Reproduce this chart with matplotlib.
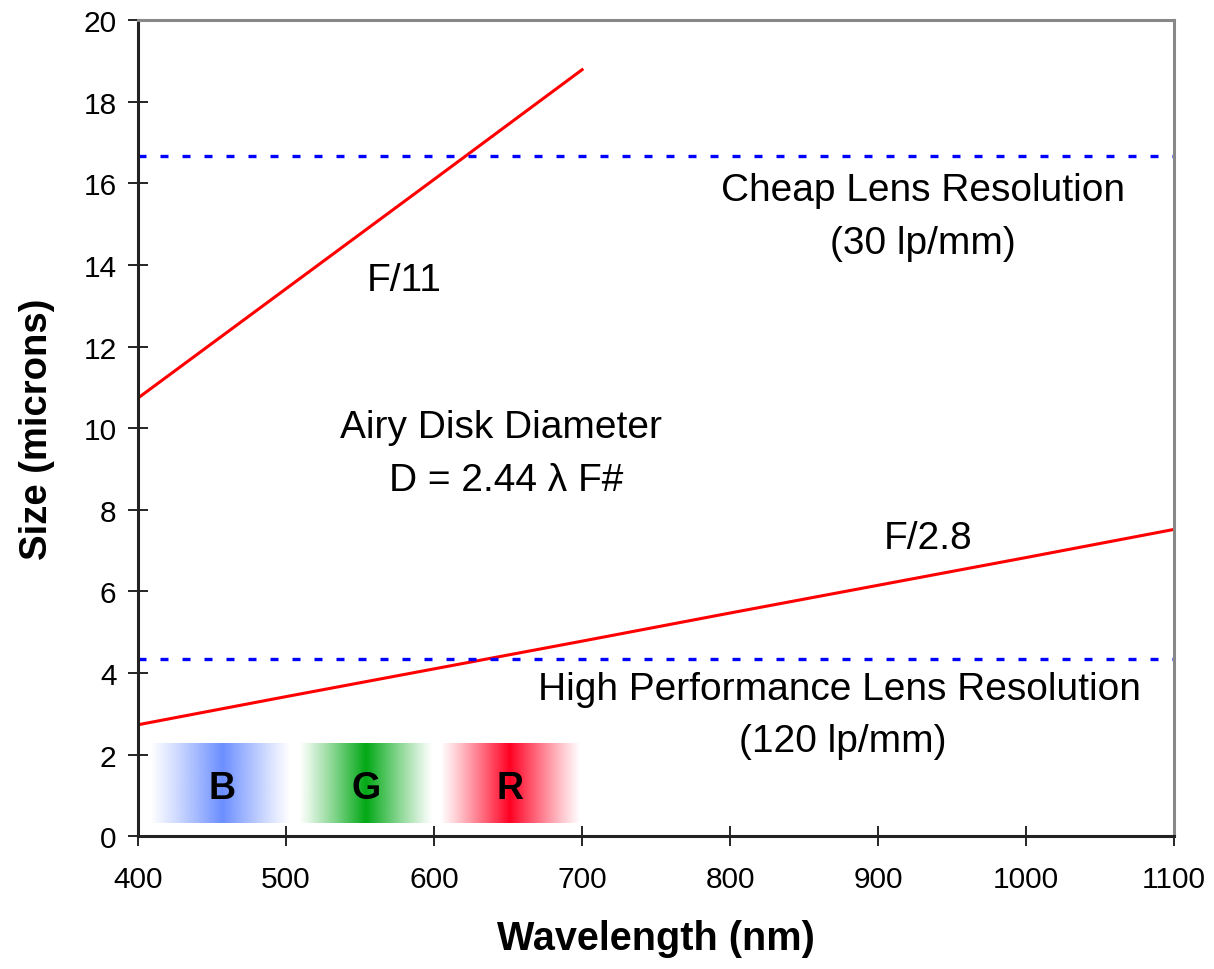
import matplotlib.pyplot as plt
import numpy as np
from matplotlib.colors import to_rgb

plt.rcParams['font.family'] = ['Liberation Sans', 'DejaVu Sans']

# data
wl_f11 = [400, 500, 600, 700]
size_f11 = [10.74, 13.42, 16.10, 18.79]
wl_f28 = [400, 500, 600, 700, 800, 900, 1000, 1100]
size_f28 = [2.73, 3.42, 4.10, 4.78, 5.47, 6.15, 6.83, 7.52]
cheap_res = 16.67
high_res = 4.33
bands = ['B', 'G', 'R']
band_lo = [408, 509, 604]
band_mid = [457, 554, 651]
band_hi = [503, 599, 699]
band_colors = ['#6b8eff', '#00a814', '#ff0022']

fig = plt.figure(figsize=(12.14, 9.70), dpi=100)
ax = fig.add_axes([0.1137, 0.137, 0.8535, 0.841])

# colour bands (fade white -> colour -> white)
for lab, lo, mid, hi, c in zip(bands, band_lo, band_mid, band_hi, band_colors):
    n = 200
    xs = np.linspace(lo, hi, n)
    a = np.where(xs < mid, (xs - lo) / (mid - lo), 1 - (xs - mid) / (hi - mid))
    a = np.clip(a, 0, 1) ** 1.1
    img = np.ones((1, n, 4))
    img[0, :, :3] = to_rgb(c)
    img[0, :, 3] = a
    ax.imshow(img, extent=(lo, hi, 0.32, 2.28), aspect='auto', zorder=1,
              interpolation='bilinear')
    ax.text(mid, 1.18, lab, ha='center', va='center', fontsize=27,
            fontweight='bold', zorder=3)

ax.plot(wl_f11, size_f11, color='#ff0000', lw=2.2, zorder=2)
ax.plot(wl_f28, size_f28, color='#ff0000', lw=2.2, zorder=2)
ax.axhline(cheap_res, color='#0000ff', lw=2.4, dashes=(2.4, 4.2), zorder=2)
ax.axhline(high_res, color='#0000ff', lw=2.4, dashes=(2.4, 4.2), zorder=2)

fs = 28
ax.text(930, 15.85, 'Cheap Lens Resolution', ha='center', va='center', fontsize=fs)
ax.text(930, 14.55, '(30 lp/mm)', ha='center', va='center', fontsize=fs)
ax.text(580, 13.64, 'F/11', ha='center', va='center', fontsize=fs)
ax.text(645, 10.02, 'Airy Disk Diameter', ha='center', va='center', fontsize=fs)
ax.text(649, 8.72, 'D = 2.44 \u03bb F#', ha='center', va='center', fontsize=fs)
ax.text(934, 7.32, 'F/2.8', ha='center', va='center', fontsize=fs)
ax.text(874, 3.61, 'High Performance Lens Resolution', ha='center', va='center', fontsize=fs)
ax.text(876, 2.33, '(120 lp/mm)', ha='center', va='center', fontsize=fs)

ax.set_xlim(400, 1100)
ax.set_ylim(0, 20)
ax.set_xticks(range(400, 1101, 100))
ax.set_yticks(range(0, 21, 2))
ax.tick_params(direction='inout', length=14, width=1.2, labelsize=21.5)
ax.tick_params(axis='y', pad=8.5)
ax.tick_params(axis='x', pad=13.5)
for s in ['top', 'right']:
    ax.spines[s].set_color('#888888')
    ax.spines[s].set_linewidth(2.2)
for s in ['left', 'bottom']:
    ax.spines[s].set_color('#222222')
    ax.spines[s].set_linewidth(2.2)

ax.set_xlabel('Wavelength (nm)', fontsize=28.5, fontweight='bold', labelpad=19)
ax.set_ylabel('Size (microns)', fontsize=27.5, fontweight='bold', labelpad=20)

fig.savefig('out.png', dpi=100)
